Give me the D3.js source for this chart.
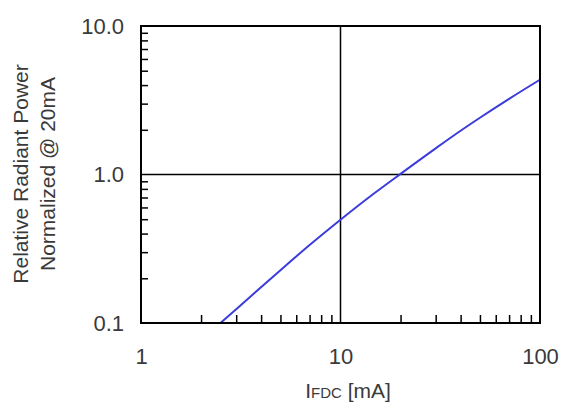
<!DOCTYPE html>
<html>
<head>
<meta charset="utf-8">
<script src="https://cdn.jsdelivr.net/npm/d3@7"></script>
<style>
  body { margin: 0; background: #fff; }
  text { font-family: "Liberation Sans", Arial, sans-serif; fill: #3a3a3a; }
  .frame { fill: none; stroke: #000; stroke-width: 2; }
  .grid { stroke: #000; stroke-width: 1.5; }
  .minor line { stroke: #000; stroke-width: 1.5; }
  .minor path { display: none; }
  .labels path, .labels line { display: none; }
  .curve { fill: none; stroke: #3c3cdc; stroke-width: 2; }
</style>
</head>
<body>
<svg id="chart" width="563" height="409"></svg>
<script>
// data: forward current [mA] vs relative radiant power
let current = [2.5, 3, 5, 7, 10, 15, 20, 30, 40, 50, 70, 100];
let power = [0.1, 0.124, 0.227, 0.335, 0.496, 0.759, 1.01, 1.5, 1.97, 2.41, 3.23, 4.35];

let xMajor = [1, 10, 100];
let yMajor = [0.1, 1, 10];
let yLabels = ["0.1", "1.0", "10.0"];
let xGrid = [10];
let yGrid = [1];

// plot box
let boxLeft = 141, boxRight = 540, boxTop = 26, boxBottom = 323;

let svg = d3.select("#chart");

let x = d3.scaleLog().domain([1, 100]).range([boxLeft, boxRight]);
let y = d3.scaleLog().domain([0.1, 10]).range([boxBottom, boxTop]);

// minor ticks 2..9 for each decade
let xMinor = [1, 10].flatMap(d => d3.range(2, 10).map(k => k * d));
let yMinor = [0.1, 1].flatMap(d => d3.range(2, 10).map(k => +(k * d).toFixed(2)));

// grid lines at 10mA and 1.0
svg.selectAll(".gx").data(xGrid).join("line")
    .attr("class", "grid")
    .attr("x1", d => x(d)).attr("x2", d => x(d))
    .attr("y1", boxTop).attr("y2", boxBottom);

svg.selectAll(".gy").data(yGrid).join("line")
    .attr("class", "grid")
    .attr("x1", boxLeft).attr("x2", boxRight)
    .attr("y1", d => y(d)).attr("y2", d => y(d));

// inward minor ticks on bottom and left
svg.append("g")
    .attr("class", "minor")
    .attr("transform", `translate(0,${boxBottom})`)
    .call(d3.axisBottom(x).tickValues(xMinor).tickSize(-8).tickFormat(""));

svg.append("g")
    .attr("class", "minor")
    .attr("transform", `translate(${boxLeft},0)`)
    .call(d3.axisLeft(y).tickValues(yMinor).tickSize(-7).tickFormat(""));

// the curve
let line = d3.line()
    .x((d, i) => x(current[i]))
    .y(d => y(d))
    .curve(d3.curveMonotoneX);

svg.append("path")
    .attr("class", "curve")
    .attr("d", line(power));

// frame
svg.append("rect")
    .attr("class", "frame")
    .attr("x", boxLeft).attr("y", boxTop)
    .attr("width", boxRight - boxLeft).attr("height", boxBottom - boxTop);

// tick labels
svg.append("g")
    .attr("class", "labels")
    .attr("transform", `translate(0,${boxBottom})`)
    .call(d3.axisBottom(x).tickValues(xMajor).tickSize(0).tickPadding(25).tickFormat(d3.format("d")));

svg.append("g")
    .attr("class", "labels")
    .attr("transform", `translate(${boxLeft},0)`)
    .call(d3.axisLeft(y).tickValues(yMajor).tickSize(0).tickPadding(17).tickFormat((d, i) => yLabels[i]));

svg.selectAll(".labels text")
    .attr("font-size", 22)
    .attr("font-family", "Liberation Sans, Arial, sans-serif")
    .attr("fill", "#3a3a3a");

// x axis title: I with small-caps FDC
let xTitle = svg.append("text")
    .attr("x", 348)
    .attr("y", 398)
    .attr("text-anchor", "middle")
    .attr("font-size", 21);
xTitle.append("tspan").text("I");
xTitle.append("tspan").attr("font-size", 15).text("FDC");
xTitle.append("tspan").text(" [mA]");

// y axis title, two lines
let yTitle = svg.append("text")
    .attr("transform", "translate(0,174) rotate(-90)")
    .attr("text-anchor", "middle")
    .attr("font-size", 21);
yTitle.append("tspan").attr("x", 0).attr("y", 28).text("Relative Radiant Power");
yTitle.append("tspan").attr("x", 0).attr("y", 55).text("Normalized @ 20mA");
</script>
</body>
</html>
